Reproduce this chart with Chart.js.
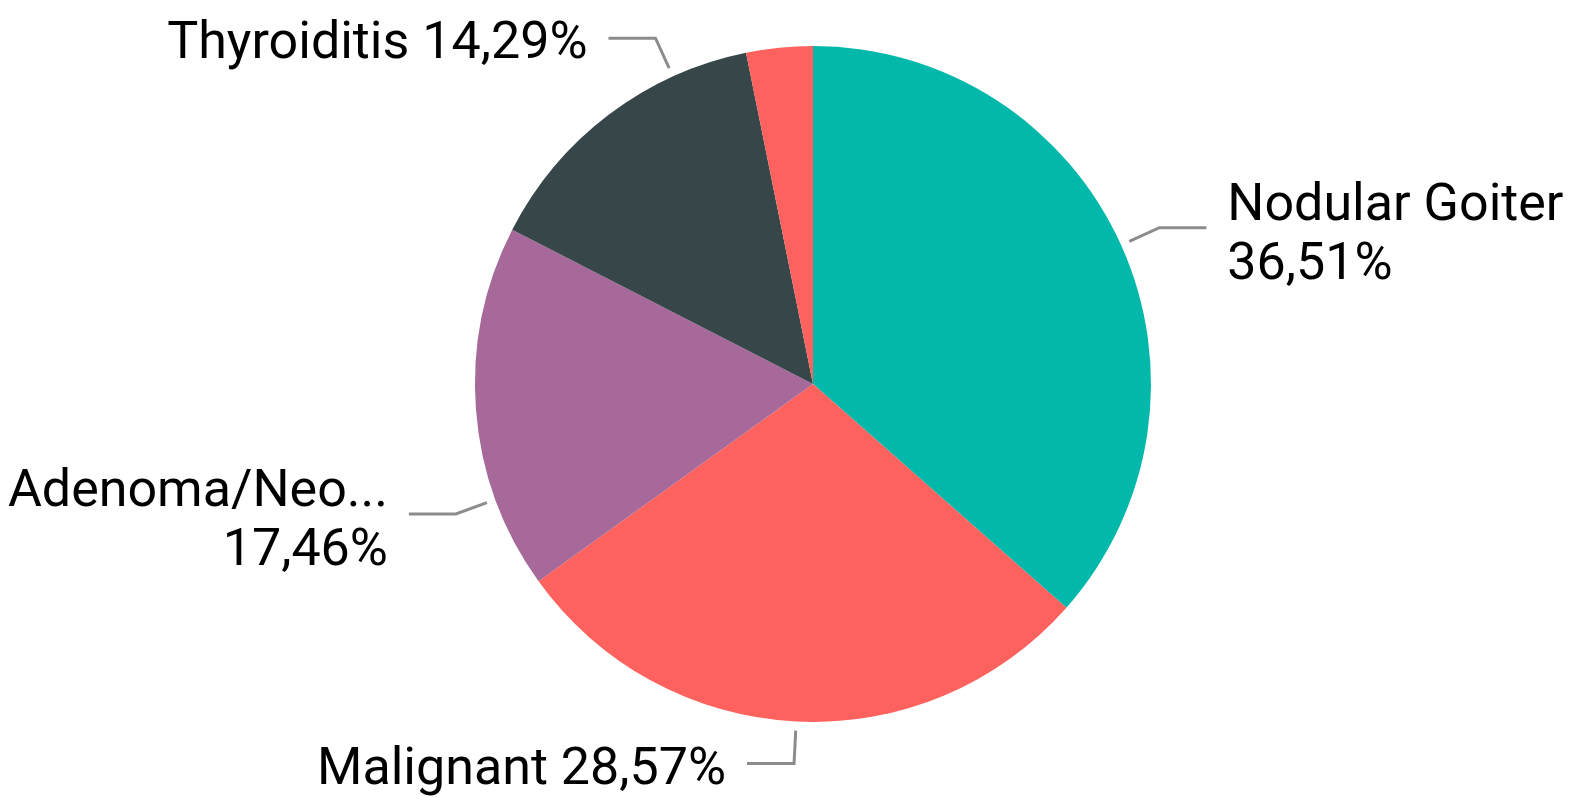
<!DOCTYPE html>
<html>
<head>
<meta charset="utf-8">
<title>Diagnosis share</title>
<script src="https://cdn.jsdelivr.net/npm/chart.js@4.4.1/dist/chart.umd.min.js"></script>
<style>
    html, body { margin: 0; padding: 0; background: #ffffff; overflow: hidden; }
    #pieChart { display: block; }
</style>
</head>
<body>
<canvas id="pieChart" width="1583" height="801"></canvas>
<script>
// chart data
const categories = ['Nodular Goiter', 'Malignant', 'Adenoma/Neo...', 'Thyroiditis', 'Other'];
const counts = [23, 18, 11, 9, 2];
const sliceColors = ['#01B8AA', '#FD625E', '#A66999', '#374649', '#FD625E'];

const total = counts.reduce((a, b) => a + b, 0);
const pctText = v => (v / total * 100).toFixed(2).replace('.', ',') + '%';

// where each label sits: which side, one or two lines, and where on the slice the leader starts
const labelLayout = [
    { side: 'right', twoLines: true, frac: 0.5 },
    { side: 'left', twoLines: false, frac: 0.5 },
    { side: 'left', twoLines: true, frac: 0.25 },
    { side: 'left', twoLines: false, frac: 0.746 },
    null
];

const leaderLabels = {
    id: 'leaderLabels',
    afterDraw(chart, args, opts) {
        const ctx = chart.ctx;
        const arcs = chart.getDatasetMeta(0).data;
        ctx.save();
        ctx.font = opts.font;
        ctx.fillStyle = opts.color;
        arcs.forEach((arc, i) => {
            const lay = labelLayout[i];
            if (!lay) return;
            const a = arc.startAngle + (arc.endAngle - arc.startAngle) * lay.frac;
            const r = arc.outerRadius;
            const sx = arc.x + (r + 9) * Math.cos(a);
            const sy = arc.y + (r + 9) * Math.sin(a);
            const ex = arc.x + (r + 42) * Math.cos(a);
            const ey = arc.y + (r + 42) * Math.sin(a);
            const dir = lay.side === 'right' ? 1 : -1;
            const hx = ex + dir * 47;

            ctx.strokeStyle = opts.lineColor;
            ctx.lineWidth = 3;
            ctx.beginPath();
            ctx.moveTo(sx, sy);
            ctx.lineTo(ex, ey);
            ctx.lineTo(hx, ey);
            ctx.stroke();

            const tx = hx + dir * 21;
            ctx.textAlign = dir > 0 ? 'left' : 'right';
            ctx.textBaseline = 'alphabetic';
            const pct = pctText(counts[i]);
            if (lay.twoLines) {
                ctx.fillText(categories[i], tx, ey - 8);
                ctx.fillText(pct, tx, ey + 51);
            } else {
                ctx.fillText(categories[i] + ' ' + pct, tx, ey + 20);
            }
        });
        ctx.restore();
    }
};

const ctx = document.getElementById('pieChart').getContext('2d');
const pieChart = new Chart(ctx, {
    type: 'pie',
    data: {
        labels: categories,
        datasets: [{
            data: counts,
            backgroundColor: sliceColors,
            borderWidth: 0
        }]
    },
    options: {
        responsive: false,
        animation: false,
        layout: {
            padding: { left: 475, right: 432, top: 46, bottom: 79 }
        },
        plugins: {
            legend: { display: false },
            tooltip: { enabled: false },
            leaderLabels: {
                font: '52px Roboto',
                color: '#000000',
                lineColor: '#8c8c8c'
            }
        }
    },
    plugins: [leaderLabels]
});
</script>
</body>
</html>
